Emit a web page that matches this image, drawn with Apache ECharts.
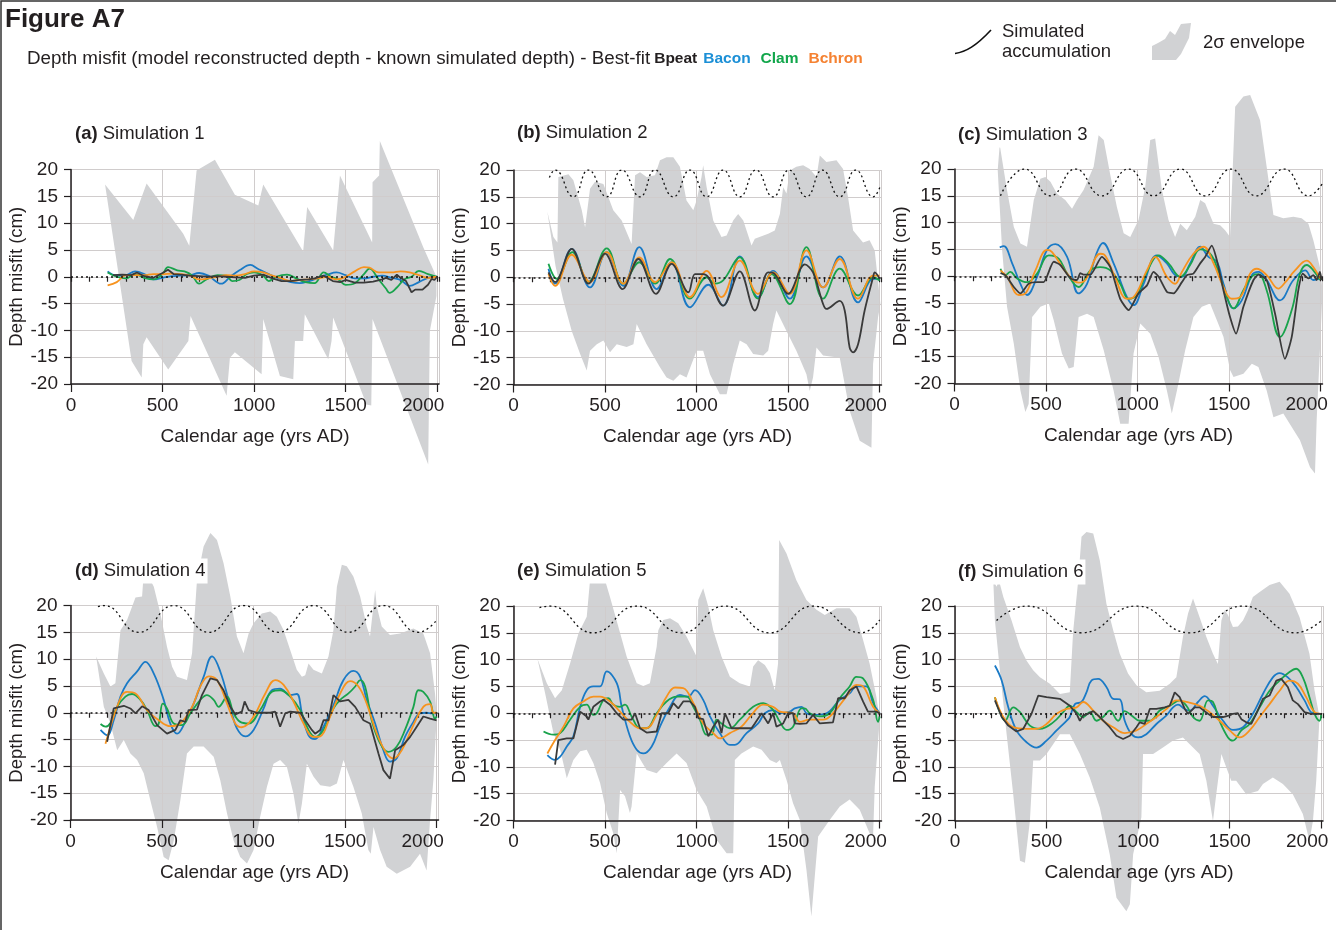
<!DOCTYPE html>
<html><head><meta charset="utf-8">
<script src="https://cdn.jsdelivr.net/npm/echarts/dist/echarts.min.js"></script>
<style>html,body{margin:0;padding:0;background:#fff}#chart{width:1336px;height:930px}</style>
</head><body><div id="chart"></div>
<script>
// ---------- DATA ----------
const X_TICKS_MAJOR = [0, 500, 1000, 1500, 2000];
const Y_TICKS = [-20, -15, -10, -5, 0, 5, 10, 15, 20];

// Panel (a) Simulation 1
const ENV_A_UP = [[186,17.2],[340,10.6],[413,17.4],[613,8.0],[646,5.8],[686,19.8],[786,21.8],[895,15.3],[1023,13.3],[1050,17.2],[1268,4.7],[1290,13.0],[1432,4.9],[1469,18.9],[1645,6.4],[1647,17.6],[1683,18.9],[1687,25.3],[1924,5.5],[1996,0]];
const ENV_A_LO = [[186,17.2],[331,-15.7],[386,-18.8],[395,-12.6],[413,-11.3],[531,-17.3],[641,-12.0],[653,-7.3],[850,-22.2],[868,-15.1],[895,-14.1],[1041,-18.2],[1050,-7.9],[1141,-18.5],[1214,-19.1],[1223,-12],[1268,-12],[1277,-7],[1405,-15.4],[1423,-12],[1432,-7.6],[1614,-23.8],[1640,-24],[1647,-7.9],[1951,-35],[1960,-10.1],[1996,-3.6]];
const BACON_A = [[200,1],[250,0.2],[300,0.3],[350,1.0],[400,0.5],[450,-0.5],[500,-0.2],[550,0.1],[600,0.2],[650,0.3],[700,0.7],[750,0.2],[820,-1.3],[870,0],[920,1.2],[980,2.2],[1020,1.5],[1080,0.5],[1150,-0.5],[1200,-1],[1250,-1.2],[1300,-0.8],[1350,-0.2],[1400,0.4],[1450,0.8],[1500,0.3],[1550,-0.3],[1600,-0.3],[1650,0],[1700,0.2],[1750,-0.2],[1800,-0.6],[1850,-1.7],[1900,-1],[1950,-0.2],[2000,0]];
const CLAM_A = [[200,0.8],[250,0],[300,-0.3],[350,0.5],[400,-0.2],[450,-0.5],[500,0.5],[530,1.8],[580,1.2],[620,1],[660,0.3],[700,-1.3],[740,-0.5],[800,0.3],[850,0.2],[880,-0.8],[920,-0.6],[960,0.5],[1000,0.8],[1050,0.2],[1080,-0.8],[1120,0],[1180,0.4],[1230,-0.3],[1280,-1],[1330,-1.2],[1380,0.8],[1420,0],[1460,-0.5],[1500,-1.5],[1550,-1.2],[1600,0.5],[1630,1.5],[1680,-0.5],[1720,-2.2],[1740,-3],[1780,-2],[1820,-0.5],[1860,0],[1900,1.1],[1950,0.5],[2000,0]];
const BCHRON_A = [[200,-1.6],[250,-1],[300,0.3],[350,0.3],[400,0.3],[450,0.5],[500,0.5],[550,0.6],[600,0.5],[650,0.2],[700,-0.5],[750,-0.3],[800,0],[850,0.3],[900,0.2],[950,0.5],[1000,1],[1050,0.8],[1100,0.2],[1150,-0.3],[1200,-0.8],[1250,-0.6],[1300,-0.5],[1350,-0.3],[1400,0],[1450,-0.5],[1500,0],[1550,1.0],[1600,1.8],[1630,1.7],[1680,0.8],[1750,0.8],[1800,1],[1850,0.8],[1900,0.3],[1950,-0.2],[2000,0]];
const BPEAT_A = [[230,0.3],[280,0.4],[330,0.3],[360,0.8],[400,0.1],[450,-0.2],[500,0.7],[530,1.3],[560,0.5],[600,0.4],[650,0.2],[700,0.1],[750,0],[800,0.1],[850,0],[900,-0.1],[950,-0.2],[1000,0.2],[1050,0.4],[1100,-0.3],[1150,-0.8],[1200,-0.8],[1250,-0.6],[1300,-0.5],[1330,-0.3],[1380,0.2],[1430,-0.8],[1470,-1],[1500,-0.6],[1550,-1.1],[1600,-1.1],[1650,-0.9],[1700,-0.5],[1720,-0.2],[1750,-0.6],[1780,0.4],[1800,-0.2],[1830,-0.8],[1860,-2.9],[1880,-2.4],[1920,-2.4],[1950,-1.5],[1970,-0.4],[1985,-0.6],[2000,0]];

// Panel (b) Simulation 2
const ENV_B_UP = [[185,12.2],[218,7.5],[240,6.5],[245,18.7],[300,19.2],[327,18.1],[373,12.5],[391,9.3],[418,16.5],[445,17.8],[491,17.4],[545,12.5],[591,10.6],[645,6.2],[664,19.0],[691,19.6],[727,18.7],[773,19.0],[800,21.8],[836,22.4],[873,22.4],[909,20.6],[945,14.3],[982,12.5],[1000,14.3],[1027,18.7],[1036,20.9],[1055,16.8],[1091,10.6],[1136,7.5],[1164,7.8],[1200,10.6],[1227,11.8],[1255,10.6],[1300,5.9],[1318,7.2],[1391,8.1],[1427,8.7],[1455,11.8],[1473,16.8],[1491,15.6],[1509,19.9],[1545,20.6],[1582,20.9],[1618,20.2],[1655,18.7],[1673,22.7],[1709,21.5],[1764,21.8],[1800,20.2],[1827,15.0],[1855,8.7],[1909,6.5],[1945,6.9],[1973,5.0],[2004,-5]];
const ENV_B_LO = [[185,12.2],[230,2],[270,-4],[318,-10],[364,-14.3],[400,-17.4],[418,-13.7],[455,-12.5],[491,-11.8],[527,-14],[564,-12.5],[618,-13],[655,-12.5],[673,-8.7],[727,-12.5],[800,-16.8],[836,-18.7],[873,-19.3],[909,-18.1],[945,-18.7],[1000,-13.7],[1036,-13.7],[1073,-18.1],[1127,-21.8],[1164,-21.8],[1200,-16.2],[1236,-11.8],[1273,-12.5],[1309,-14.3],[1364,-14.6],[1391,-13.7],[1418,-8.7],[1436,-6.2],[1491,-10],[1545,-13.7],[1600,-18.1],[1618,-21.2],[1636,-18.7],[1655,-13.1],[1691,-14.6],[1782,-15],[1836,-24.9],[1891,-30.5],[1955,-31.8],[1964,-16.2],[1991,-7.5],[2004,-5]];
const BACON_B = [[191,1.6],[227,-1.2],[318,5.3],[418,-1.9],[509,4.7],[600,-1.6],[687,5.6],[782,-2.2],[864,2.8],[964,-5.6],[1064,-1.4],[1145,-5.3],[1236,3.9],[1336,-3.7],[1418,1.2],[1509,-4],[1600,3.9],[1691,-1.9],[1782,3.9],[1882,-4.7],[1964,-0.3],[2000,-0.3]];
const CLAM_B = [[191,2.5],[236,-0.3],[322,4.7],[409,-0.9],[509,5.4],[600,-1.2],[687,2.8],[773,-1.2],[855,3.4],[964,-4.0],[1055,0],[1100,-1.2],[1145,-0.6],[1236,3.7],[1336,-4],[1409,0.6],[1509,-5],[1600,5.6],[1691,-4],[1782,1.6],[1882,-3.4],[1964,0],[2000,-0.6]];
const BCHRON_B = [[191,0.6],[227,-1.6],[318,4.2],[418,-0.9],[509,4.7],[600,-1.2],[687,3.7],[773,-0.9],[864,2.8],[964,-3.7],[1055,1.2],[1136,-3.7],[1236,3.1],[1336,-3.1],[1418,0.9],[1509,-3.1],[1600,5],[1691,-1.9],[1782,3.4],[1882,-4],[1964,0.3],[2000,0.3]];
const BPEAT_B = [[191,0.9],[227,-0.9],[318,5.3],[409,-1.2],[500,4.4],[596,-2.2],[682,3.4],[778,-3.1],[864,2.5],[955,-2.8],[991,0.6],[1036,0.6],[1064,0],[1145,-5.3],[1236,1.1],[1318,-6.2],[1391,0.9],[1427,0.6],[1500,-3.1],[1591,2.4],[1636,0.9],[1691,-5],[1709,-5.9],[1782,-4.4],[1809,-6.2],[1836,-13.1],[1855,-14],[1882,-12.5],[1918,-6.2],[1964,0],[1973,0.9],[2000,-0.3]];
const ACCUM_B = [[196,18.6],[227,20],[327,15],[409,20],[509,15],[591,20],[691,15],[773,20],[873,15],[964,20],[1055,15],[1145,20],[1236,15],[1324,20],[1418,15],[1505,20],[1600,15],[1687,20],[1782,15],[1869,20],[1964,15],[2005,17.2]];

// Panel (c) Simulation 3
const ENV_C_UP = [[236,19.8],[247,24.5],[287,16],[324,9.2],[360,6.1],[396,5.5],[433,14.2],[469,18.2],[496,18.5],[524,17.6],[560,15.4],[605,14.2],[642,12.6],[669,14.2],[705,16.1],[760,20.4],[787,26.3],[815,25.4],[851,18.9],[887,12.9],[924,8],[960,7.3],[1005,10.5],[1042,16.7],[1069,25.4],[1096,25.7],[1133,16.1],[1169,10.5],[1205,7.3],[1233,9.8],[1269,8.6],[1315,11.1],[1342,14.2],[1369,13.6],[1415,9.8],[1451,9.5],[1478,8.6],[1505,7.3],[1533,31.6],[1578,33.5],[1615,33.8],[1669,29.1],[1705,20.4],[1742,11.4],[1796,10.8],[1851,11.1],[1896,10.8],[1933,9.8],[1960,6.7],[1996,1.7],[2010,-2.5]];
const ENV_C_LO = [[236,19.8],[260,4.9],[287,-5.7],[324,-12.6],[360,-21.3],[387,-25.3],[405,-23.8],[424,-7.6],[469,-5.7],[515,-5.1],[542,-8.2],[587,-14.4],[624,-17.2],[651,-16.9],[678,-7.6],[724,-7],[760,-7.6],[815,-13.8],[869,-21.3],[905,-27.5],[951,-27.5],[978,-14.4],[1015,-8.8],[1069,-10.7],[1115,-15.1],[1160,-21.3],[1187,-25.6],[1215,-21.3],[1260,-13.8],[1305,-7.6],[1351,-5.7],[1396,-5.1],[1433,-8.2],[1469,-11.3],[1505,-17.5],[1524,-18.8],[1578,-18.2],[1624,-16.3],[1660,-16.9],[1705,-21.3],[1742,-26.3],[1796,-25.6],[1887,-30.6],[1942,-35.6],[1969,-36.8],[1978,-26.9],[1996,-13.8],[2010,-2.5]];
const BACON_C = [[247,5.4],[269,5.6],[315,2.4],[360,-1.4],[396,-3.5],[451,-0.1],[505,4.9],[551,6.0],[615,3.6],[678,-3.2],[724,-1.4],[775,4.2],[811,6.2],[869,2.4],[942,-3.9],[978,-5.4],[1033,-1.4],[1105,3.9],[1160,2.4],[1205,0.2],[1242,-0.1],[1287,2.4],[1342,5.5],[1387,3.6],[1433,2.7],[1469,-1.4],[1524,-6],[1569,-4.5],[1624,0.2],[1660,0.8],[1705,-0.7],[1778,-4.5],[1851,-0.7],[1915,1.1],[1960,-0.7],[1996,-0.4]];
const CLAM_C = [[251,1.4],[278,0.2],[305,0.8],[342,-0.4],[396,-1.1],[451,0.5],[515,3.9],[569,3.3],[615,0.5],[678,-2],[742,1.1],[796,1.7],[851,1.1],[905,-1.4],[951,-4.2],[996,-3.5],[1051,0.8],[1115,3.9],[1169,2.4],[1233,-0.1],[1287,2.1],[1342,5],[1396,4.2],[1433,1.7],[1487,-3.9],[1524,-6],[1578,-2.6],[1633,0.2],[1660,0.4],[1705,-2.6],[1778,-11.3],[1842,-6.3],[1887,0.5],[1924,2.1],[1960,1.1],[1996,-0.7]];
const BCHRON_C = [[251,1.1],[287,-0.1],[351,-3.5],[387,-3.2],[442,1.1],[505,4.9],[533,4.5],[615,0.5],[678,-1.2],[715,-0.7],[796,4.2],[815,4.1],[869,0.5],[942,-4.2],[978,-3.9],[1051,1.1],[1096,3.6],[1160,-0.1],[1205,-1.4],[1242,0.8],[1305,4.2],[1360,5.5],[1415,2.4],[1469,-2],[1515,-4.2],[1560,-3.9],[1615,0.5],[1651,1.4],[1705,0.2],[1769,-2.3],[1805,-1.2],[1860,1.1],[1924,2.9],[1960,1.7],[1996,-0.4]];
const BPEAT_C = [[251,0.6],[278,0.2],[324,-2],[360,-3.2],[405,-1.4],[451,-1.1],[487,-1.1],[542,2.7],[578,2.1],[633,-0.4],[669,-0.7],[687,0.6],[705,0.3],[742,0.3],[805,3.6],[851,1.7],[905,-4.2],[951,-6.3],[1005,-3.2],[1051,-1.7],[1087,0.8],[1115,-0.1],[1160,-2.9],[1196,-3.2],[1242,-1.1],[1269,0.2],[1305,0.5],[1342,2.4],[1369,3.6],[1405,5.7],[1433,3],[1469,-2.6],[1505,-7.6],[1538,-10.7],[1578,-5.7],[1633,-0.7],[1660,0.3],[1705,-0.7],[1751,-7],[1805,-15.4],[1842,-11.3],[1878,-2.6],[1902,0.5],[1933,-0.4],[1960,0.2],[1978,-0.7],[1996,0.8],[2005,-0.7]];
const ACCUM_C = [[251,15],[382,20],[524,15],[660,20],[805,15],[951,20],[1087,15],[1233,20],[1369,15],[1509,20],[1647,15],[1800,20],[1933,15],[2008,17.2]];

// Panel (d) Simulation 4
const ENV_D_UP = [[140,10.5],[182,7.3],[218,4.9],[245,5.5],[273,15.4],[309,17.3],[355,21.5],[391,21.7],[400,26],[427,25.4],[455,23.5],[491,18.5],[527,12.3],[555,8.6],[582,6.7],[636,6.1],[664,11.1],[691,24.8],[727,31],[764,33.5],[800,32.2],[836,27.9],[873,21.7],[909,14.2],[945,11.1],[973,14.8],[1000,16.7],[1045,18.5],[1091,18.9],[1127,17.9],[1164,15.4],[1200,11.7],[1236,8],[1264,6.7],[1282,7],[1300,9.2],[1327,8],[1373,7.3],[1409,10.5],[1436,15.4],[1455,23.5],[1482,27.6],[1509,27.3],[1545,25.4],[1582,21.7],[1618,16.1],[1636,14.2],[1664,22.9],[1673,19.8],[1700,16.1],[1745,14.5],[1800,14.8],[1873,15.7],[1927,14.8],[1964,11.1],[1991,3.6],[2000,-0.7]];
const ENV_D_LO = [[140,10.5],[182,1.1],[218,-2],[255,-7],[291,-5.1],[327,-7.6],[364,-8.8],[400,-11.3],[436,-16.3],[473,-21.3],[509,-26.9],[536,-27.5],[564,-23.8],[600,-16.3],[636,-7.6],[673,-6.3],[727,-6.3],[782,-8.2],[818,-12.6],[855,-18.8],[891,-23.8],[927,-26.9],[964,-28.1],[1000,-25.6],[1036,-19.4],[1073,-13.8],[1109,-9.5],[1145,-8.8],[1182,-10.1],[1218,-15.1],[1245,-20.7],[1264,-16.9],[1291,-9.5],[1327,-11.9],[1364,-13.5],[1418,-13.8],[1455,-13.2],[1491,-8.8],[1545,-13.8],[1591,-18.8],[1627,-25.6],[1640,-26.3],[1655,-21.3],[1691,-25.6],[1727,-28.7],[1782,-30],[1855,-28.7],[1909,-26.3],[1945,-29.4],[1964,-20],[1982,-12.6],[2000,-0.7]];
const BACON_D = [[164,-3.2],[200,-4.2],[236,-1.4],[273,3],[309,5.5],[364,7.7],[409,9.5],[455,7.3],[509,2.4],[545,-2],[582,-3.9],[627,-1.7],[673,1.7],[727,6.7],[773,10.5],[818,7.7],[873,1.1],[909,-2.9],[955,-4.4],[1000,-3.2],[1055,0.8],[1100,4.2],[1145,4.5],[1200,3.3],[1236,3.5],[1264,-0.1],[1300,-4.2],[1336,-4.9],[1373,-3.2],[1436,1.4],[1491,6.1],[1545,7.8],[1582,6.7],[1618,2.4],[1664,-2],[1709,-7],[1745,-9.1],[1782,-8.5],[1827,-4.5],[1873,-1.7],[1909,-0.1],[1945,0],[1973,-0.1],[2000,-0.1]];
const CLAM_D = [[164,-2.1],[191,-2.6],[218,-1.9],[255,1.1],[300,3],[336,3.5],[382,2.4],[418,0.5],[464,-2.5],[482,-2],[504,1.7],[527,0.8],[564,-2],[609,-2.3],[655,-0.1],[709,2.4],[745,3.3],[782,2.4],[809,1.1],[855,3],[891,-0.1],[927,-1.7],[973,-2],[1036,0.5],[1100,3.9],[1145,4.2],[1200,3],[1255,0.5],[1300,-3.2],[1336,-4.5],[1382,-3.2],[1436,0.8],[1473,2.4],[1518,3.6],[1555,4.9],[1582,6.1],[1609,4.9],[1645,-1.4],[1691,-5.7],[1736,-7.3],[1782,-6.3],[1827,-3.2],[1873,1.1],[1900,4.2],[1927,3.9],[1964,2.1],[1991,-1.1],[2000,-0.7]];
const BCHRON_D = [[191,-5.8],[236,-0.7],[282,3.3],[309,3.9],[355,3.6],[418,0.5],[482,-1.4],[545,-2.5],[600,-2],[664,1.1],[709,4.9],[755,6.8],[800,6.1],[855,1.7],[900,-2],[936,-2.7],[1000,-0.7],[1064,3.6],[1118,6.1],[1164,5.2],[1218,2.1],[1273,-2],[1327,-4.5],[1364,-4.4],[1418,-0.7],[1473,3.6],[1527,5.9],[1573,4.9],[1618,1.7],[1673,-3.9],[1727,-7.6],[1764,-8.5],[1809,-7],[1873,-2.3],[1927,1.1],[1964,1.6],[1982,0],[2000,0]];
const BPEAT_D = [[200,-5.4],[236,0.8],[291,1.3],[327,0.8],[355,-0.1],[391,1.2],[427,0.5],[473,-2.3],[527,-3.9],[573,-3.2],[600,-1.4],[627,-1.7],[645,0.5],[691,0.6],[718,3.3],[764,6.4],[800,6.1],[836,4.2],[873,1.1],[900,-0.3],[936,0.2],[951,2.1],[973,0.5],[1018,0],[1091,0],[1118,0.2],[1145,-2.6],[1173,-0.1],[1200,0.2],[1255,0],[1282,-1.4],[1318,-3.2],[1336,-3.9],[1364,-3.2],[1382,-1.4],[1409,-1.4],[1436,3.3],[1473,2.1],[1518,2.4],[1555,1.1],[1600,-1.4],[1636,-2],[1682,-7.6],[1709,-10.7],[1745,-12.3],[1773,-7],[1818,-6],[1855,-4.5],[1891,-2.6],[1927,-0.7],[1964,-1.1],[2000,-1.4]];
const ACCUM_D = [[150,19.8],[182,20],[373,15],[564,20],[755,15],[945,20],[1136,15],[1327,20],[1518,15],[1709,20],[1900,15],[2005,17.5]];

// Panel (e) Simulation 5
const ENV_E_UP = [[131,10.1],[182,5.6],[227,2.8],[264,4.3],[309,9.3],[355,14.9],[400,18],[418,24.8],[500,24.8],[527,21.7],[573,16.1],[618,10.6],[673,5.6],[709,5.1],[745,5.6],[782,12.4],[791,15.5],[818,17.4],[855,17.7],[900,16.8],[945,14.3],[973,12.4],[1000,10.6],[1009,21.1],[1036,23.3],[1064,19.9],[1091,15.5],[1136,10.6],[1182,6.8],[1236,5.6],[1291,5],[1309,8.7],[1336,9.9],[1373,9],[1400,7.5],[1427,4.3],[1445,9.3],[1451,32.3],[1491,29.8],[1545,24.8],[1600,21.1],[1655,19.3],[1700,18.3],[1764,19.6],[1836,19.6],[1873,18],[1909,13.7],[1945,9.3],[1982,3.1],[2000,-1.2]];
const ENV_E_LO = [[131,10.1],[173,3.7],[218,-3.7],[255,-6.8],[291,-12.1],[327,-8.7],[364,-7.1],[400,-6.8],[436,-9.3],[473,-13],[509,-18.6],[545,-22.4],[564,-26.1],[582,-14.3],[609,-15.5],[636,-18.6],[645,-17.4],[673,-7.5],[727,-10.6],[782,-11.2],[836,-9.3],[891,-7.5],[945,-9.3],[1000,-14.3],[1055,-17.4],[1109,-23.6],[1164,-26.1],[1200,-26.1],[1209,-8.7],[1245,-7.5],[1309,-6.2],[1355,-6.8],[1400,-8.7],[1436,-9.3],[1455,-8.7],[1491,-12.4],[1527,-16.8],[1564,-19.9],[1600,-29.2],[1627,-37.9],[1664,-23],[1727,-19.9],[1782,-17.4],[1836,-16.1],[1891,-18],[1945,-22.4],[1964,-23],[1973,-13.7],[2000,-1.2]];
const BACON_E = [[185,-7.8],[227,-8.7],[255,-8.1],[291,-6.2],[327,-4.3],[364,1.2],[400,4.3],[436,5],[473,5],[509,7.8],[564,5.6],[591,1.2],[636,-4.3],[673,-6.8],[709,-7.5],[755,-6.2],[800,-2.5],[855,1.2],[909,3.4],[955,3.1],[991,4.3],[1036,2.5],[1073,-0.6],[1127,-3.7],[1182,-5.9],[1209,-5.9],[1273,-3.7],[1336,-1.9],[1373,0],[1418,0.6],[1455,0],[1509,0.3],[1536,0.9],[1573,1.2],[1600,0],[1636,-0.3],[1709,0],[1782,2.5],[1836,3.7],[1873,5],[1927,5],[1964,1.9],[2000,0]];
const CLAM_E = [[164,-3.4],[218,-4],[255,-3.7],[309,-1.2],[364,1.2],[400,1.6],[436,-0.3],[455,0],[491,2.5],[518,2.8],[545,1.6],[582,1.2],[609,1.6],[645,-0.6],[691,-2.8],[727,-2.8],[782,0],[836,2.2],[891,3.1],[945,3.1],[982,1.2],[1018,-1.2],[1055,-4],[1082,-4],[1109,-1.2],[1136,-1.9],[1182,-2.8],[1236,-1.2],[1309,1.2],[1364,1.9],[1418,0.6],[1455,-1.6],[1491,-3.1],[1527,-2.5],[1573,0.9],[1591,0.9],[1618,0],[1673,-0.6],[1727,0],[1782,2.8],[1836,5],[1873,6.8],[1909,6.5],[1964,2.5],[1991,-1.6],[2000,-0.6]];
const BCHRON_E = [[185,-7.5],[227,-5],[273,-2.5],[327,0.9],[382,2.2],[436,3.1],[473,3.1],[527,2.2],[582,0.3],[636,-1.6],[691,-2.8],[727,-2.8],[782,-0.3],[836,3.1],[882,4.8],[927,4.7],[982,1.9],[1036,-1.9],[1091,-3.7],[1127,-4.7],[1182,-3.7],[1245,-2.5],[1300,-0.3],[1364,1.6],[1418,1.2],[1455,0.3],[1527,0],[1564,-1.6],[1618,-1.2],[1691,-1.2],[1745,0],[1818,3.1],[1873,5.3],[1909,5],[1964,1.2],[2000,0]];
const BPEAT_E = [[227,-9.6],[245,-5],[291,-4.7],[327,-4.7],[364,0.3],[400,-0.6],[409,-1.2],[436,1.2],[473,2.2],[491,2.5],[527,1.6],[564,0],[600,-1.2],[645,-1.2],[664,0],[691,-2.8],[727,-3.6],[782,-3.4],[809,0],[845,0],[873,1.9],[900,0.9],[927,2.2],[964,2.2],[991,1.2],[1009,-0.9],[1036,-1.1],[1064,-4.3],[1091,-2.5],[1118,-1.2],[1136,-3.7],[1155,0],[1191,-2.8],[1236,-2.8],[1300,-2.8],[1318,-1.9],[1355,0],[1391,-1.9],[1418,0],[1436,-2.5],[1473,-1.9],[1500,0],[1527,0],[1536,-1.9],[1564,-2],[1600,-1.9],[1636,-0.3],[1673,-1.9],[1745,-1.7],[1773,2.8],[1809,2.8],[1836,4.3],[1873,5],[1909,2.2],[1936,0.3],[1982,0.3],[2000,0]];
const ACCUM_E = [[142,19.7],[200,20],[436,15],[673,20],[918,15],[1155,20],[1400,15],[1636,20],[1900,15],[2000,17.4]];

// Panel (f) Simulation 6
const ENV_F_UP = [[209,24.8],[227,23.6],[240,24.8],[264,21.7],[309,17.3],[355,12.3],[391,9.8],[427,8],[464,6.7],[518,5.5],[573,3.6],[627,3.9],[645,15.1],[673,24.8],[691,32.9],[718,33.8],[755,33.5],[791,28.5],[827,20.4],[864,15.5],[900,11.1],[945,7.4],[991,5.2],[1045,3.9],[1118,4.2],[1173,5.5],[1209,6.7],[1245,14.2],[1273,18.6],[1300,21.4],[1336,17.9],[1373,14.2],[1409,11.1],[1436,9.2],[1455,17.3],[1473,19.2],[1491,18.3],[1518,16.1],[1545,16.2],[1573,17.3],[1600,19.2],[1627,21.7],[1664,22.6],[1718,23.9],[1773,24.5],[1827,22.3],[1882,17.9],[1936,11.1],[1964,4.2],[1991,-0.7]];
const ENV_F_LO = [[209,24.8],[218,17.3],[245,8],[282,-3.9],[318,-15.1],[355,-27.5],[382,-27.9],[409,-20.1],[427,-8.8],[464,-8.8],[500,-7.6],[573,-3.9],[627,-3.9],[682,-7.6],[736,-12],[791,-17.6],[845,-26.3],[882,-34.4],[936,-36.9],[955,-35.6],[973,-26.3],[1018,-19.4],[1027,-7.6],[1082,-7.6],[1136,-6.4],[1191,-5.1],[1245,-4.5],[1300,-6.4],[1336,-7.6],[1373,-12.6],[1409,-20.1],[1427,-15.1],[1455,-7.6],[1482,-10.1],[1509,-12.6],[1536,-12.6],[1591,-15.1],[1655,-14.5],[1682,-13.2],[1736,-12],[1791,-13.2],[1845,-15.1],[1900,-18.8],[1936,-23.8],[1955,-20.1],[1973,-12.6],[1991,-0.7]];
const BACON_F = [[218,8.9],[255,6.1],[291,1.1],[336,-3.2],[391,-5.4],[445,-6.4],[500,-5.1],[555,-3.2],[609,-1.4],[627,-0.7],[655,1.7],[691,2.1],[718,3.9],[745,6.1],[782,6.4],[827,4.9],[864,2.7],[900,2.6],[927,-1.4],[964,-3.9],[1000,-4.5],[1045,-3.9],[1100,-2],[1155,-0.4],[1191,1.1],[1218,1.6],[1255,0.8],[1282,0.5],[1327,2.1],[1364,3.2],[1409,1.4],[1464,-1.4],[1518,-3.1],[1573,-2.6],[1627,-0.1],[1682,3.6],[1736,6.7],[1773,7.5],[1818,6.7],[1864,4.9],[1909,2.4],[1955,0],[2000,-0.1]];
const CLAM_F = [[218,3],[245,0.2],[273,-1.4],[318,1.1],[355,0.2],[409,-2.3],[464,-2.9],[536,-1.7],[591,0.2],[627,1.4],[664,0.2],[700,-0.7],[736,0.2],[773,-1.4],[809,-0.7],[845,0.5],[891,-1.4],[927,0.4],[964,-0.4],[1009,-1.4],[1064,-1.4],[1118,0.5],[1173,1.4],[1227,2.4],[1264,1.4],[1300,-0.7],[1336,-1.4],[1382,2.4],[1409,2.1],[1445,-1.4],[1491,-4.5],[1518,-5.1],[1564,-3.2],[1609,-2],[1664,1.1],[1718,4.2],[1773,6.1],[1827,7.7],[1864,8.3],[1900,6.7],[1936,3],[1964,-0.1],[1991,-1.4],[2000,-0.1]];
const BCHRON_F = [[218,3],[264,-0.7],[318,-2.6],[391,-2.9],[445,-2.9],[500,-2],[555,-0.1],[609,0.8],[664,1.1],[700,2.1],[755,0.5],[809,-1.4],[864,-2.6],[927,-3.7],[991,-3.2],[1045,-2],[1100,-0.7],[1155,0.8],[1209,2.4],[1264,2.1],[1336,1.4],[1391,0.2],[1445,-1.4],[1500,-3.2],[1555,-4.5],[1609,-3.2],[1664,-0.7],[1718,1.7],[1773,4.2],[1827,6.1],[1873,5.5],[1918,3],[1964,0.2],[2000,-0.1]];
const BPEAT_F = [[218,2.4],[255,-0.7],[291,-2.3],[336,-3.4],[373,-2.9],[418,-0.1],[455,3.3],[500,3],[573,2.7],[627,1.4],[664,-0.1],[682,-1.4],[700,-0.4],[727,-0.1],[755,0.4],[791,-0.7],[845,-2.6],[882,-4.2],[918,-4.8],[955,-4.2],[991,-2.6],[1009,-1.7],[1036,-2],[1064,0.8],[1100,0.8],[1145,1.1],[1173,1.4],[1200,3.9],[1227,3],[1255,0.8],[1273,-0.1],[1309,1.1],[1336,1.1],[1382,-0.1],[1409,-0.7],[1464,-0.7],[1500,-0.4],[1518,-0.1],[1545,0],[1564,-1.1],[1591,-1.7],[1618,-2],[1645,-0.1],[1682,2.7],[1718,3.3],[1755,6.1],[1782,6.4],[1818,4.9],[1845,2.4],[1873,1.7],[1909,0.2],[1945,-0.1],[2000,-0.1]];
const ACCUM_F = [[227,17.3],[391,20],[691,15],[991,20],[1282,15],[1573,20],[1860,15],[2005,17.4]];

// ---------- LAYOUT / STYLE ----------
const FONT = "'Liberation Sans', Arial, Helvetica, sans-serif";
const INK = '#231f20';
const C_BPEAT = '#3a3a3a', C_BACON = '#1a7ac6', C_CLAM = '#19a34c', C_BCHRON = '#f7931e';
const ENV_FILL = '#d1d2d4';
const GRIDLINE = '#d0cccc';
const FS = 19;

const PANELS = [
  {lab:'(a)', name:'Simulation 1', g:{left:71, top:169.5}, t:[73,134], up:ENV_A_UP, lo:ENV_A_LO, bacon:BACON_A, clam:CLAM_A, bchron:BCHRON_A, bpeat:BPEAT_A, acc:null, peatSmooth:false},
  {lab:'(b)', name:'Simulation 2', g:{left:513.5, top:170}, t:[515,133], up:ENV_B_UP, lo:ENV_B_LO, bacon:BACON_B, clam:CLAM_B, bchron:BCHRON_B, bpeat:BPEAT_B, acc:ACCUM_B, peatSmooth:0.35},
  {lab:'(c)', name:'Simulation 3', g:{left:954.5, top:169}, t:[956,135], up:ENV_C_UP, lo:ENV_C_LO, bacon:BACON_C, clam:CLAM_C, bchron:BCHRON_C, bpeat:BPEAT_C, acc:ACCUM_C, peatSmooth:0.2},
  {lab:'(d)', name:'Simulation 4', g:{left:70.5, top:605.5}, t:[73,571], up:ENV_D_UP, lo:ENV_D_LO, bacon:BACON_D, clam:CLAM_D, bchron:BCHRON_D, bpeat:BPEAT_D, acc:ACCUM_D, peatSmooth:false},
  {lab:'(e)', name:'Simulation 5', g:{left:513.5, top:606}, t:[515,571], up:ENV_E_UP, lo:ENV_E_LO, bacon:BACON_E, clam:CLAM_E, bchron:BCHRON_E, bpeat:BPEAT_E, acc:ACCUM_E, peatSmooth:false},
  {lab:'(f)', name:'Simulation 6', g:{left:955, top:606}, t:[956,572], up:ENV_F_UP, lo:ENV_F_LO, bacon:BACON_F, clam:CLAM_F, bchron:BCHRON_F, bpeat:BPEAT_F, acc:ACCUM_F, peatSmooth:false}
];
const GW = 368, GH = 214.5, XMAX = 2010;

const grids = [], xAxes = [], yAxes = [], series = [], graphics = [];
const txt = {fontFamily: FONT, color: INK};

PANELS.forEach((p, i) => {
  grids.push({left:p.g.left, top:p.g.top, width:GW, height:GH, containLabel:false, outerBoundsMode:'none'});
  xAxes.push({
    gridIndex:i, type:'value', min:0, max:XMAX, interval:500, position:'bottom', z:1,
    axisLine:{show:true, onZero:false, lineStyle:{color:INK, width:1.5}},
    axisTick:{show:true, length:8, lineStyle:{color:INK, width:1.2}},
    axisLabel:{margin:12, fontSize:FS, ...txt, showMaxLabel:false,
      formatter: v => (v === X_TICKS_MAJOR[4] ? '{r|' + v + '}' : (X_TICKS_MAJOR.indexOf(v) >= 0 ? String(v) : '')),
      rich:{r:{padding:[0,28,0,0], fontSize:FS, ...txt}}},
    splitLine:{show:true, lineStyle:{color:GRIDLINE, width:1}},
    name:'Calendar age (yrs AD)', nameLocation:'middle', nameGap:43,
    nameTextStyle:{fontSize:FS, ...txt}
  });
  yAxes.push({
    gridIndex:i, type:'value', min:Y_TICKS[0], max:Y_TICKS[Y_TICKS.length-1], interval:5, z:1,
    axisLine:{show:true, onZero:false, lineStyle:{color:INK, width:1.5}},
    axisTick:{show:true, length:7, lineStyle:{color:INK, width:1.2}},
    axisLabel:{margin:13, fontSize:FS, ...txt},
    splitLine:{show:true, lineStyle:{color:GRIDLINE, width:1}},
    name:'Depth misfit (cm)', nameLocation:'middle', nameGap:44, nameRotate:90,
    nameTextStyle:{fontSize:18.5, ...txt}
  });
});
// secondary tick-only x axes (100-yr ticks)
PANELS.forEach((p, i) => {
  xAxes.push({
    gridIndex:i, type:'value', min:0, max:XMAX, interval:100, position:'bottom', z:1,
    axisLine:{show:false}, axisLabel:{show:false}, splitLine:{show:false},
    axisTick:{show:true, length:5, lineStyle:{color:INK, width:1.2}}
  });
});

function envRenderer(up, lo) {
  return function (params, api) {
    if (params.dataIndex !== 0) return null;
    const pts = up.map(d => api.coord(d)).concat(lo.slice().reverse().map(d => api.coord(d)));
    return {type:'polygon', shape:{points:pts}, style:{fill:ENV_FILL, stroke:null}};
  };
}

PANELS.forEach((p, i) => {
  series.push({type:'custom', xAxisIndex:i, yAxisIndex:i, data:[[0,0]], renderItem:envRenderer(p.up, p.lo), z:0, clip:false, silent:true});
  if (p.acc) {
    series.push({type:'line', xAxisIndex:i, yAxisIndex:i, data:p.acc, smooth:0.5, showSymbol:false, symbol:'none', z:3,
      lineStyle:{color:'#111', width:1.3, type:[2,3]}});
  }
  const mk = {silent:true, symbol:['none','none'], label:{show:false},
    lineStyle:{color:'#111', width:1.5, type:[2,3]}, data:[{yAxis:0}]};
  series.push({type:'line', xAxisIndex:i, yAxisIndex:i, data:p.bacon, smooth:0.4, showSymbol:false, symbol:'none', z:4, lineStyle:{color:C_BACON, width:1.8}, markLine:mk});
  series.push({type:'line', xAxisIndex:i, yAxisIndex:i, data:p.clam, smooth:0.4, showSymbol:false, symbol:'none', z:4, lineStyle:{color:C_CLAM, width:1.8}});
  series.push({type:'line', xAxisIndex:i, yAxisIndex:i, data:p.bchron, smooth:0.4, showSymbol:false, symbol:'none', z:4, lineStyle:{color:C_BCHRON, width:1.8}});
  series.push({type:'line', xAxisIndex:i, yAxisIndex:i, data:p.bpeat, smooth:p.peatSmooth, showSymbol:false, symbol:'none', z:5, lineStyle:{color:C_BPEAT, width:1.8}});

  graphics.push({type:'text', z:50, x:p.t[0], y:p.t[1], style:{
    text:'{b|' + p.lab + '}{n| ' + p.name + '}', textVerticalAlign:'middle',
    backgroundColor:'#fff', padding:[3,2,3,2],
    rich:{b:{fontWeight:'bold', fontSize:18.5, fontFamily:FONT, fill:INK}, n:{fontSize:18.5, fontFamily:FONT, fill:INK}}
  }});
});

// header, legend, frame
graphics.push(
  {type:'polyline', z:60, shape:{points:[[1,930],[1,1],[1336,1]]}, style:{stroke:'#333', lineWidth:1.5, fill:null}},
  {type:'text', z:60, x:5, y:20, style:{text:'Figure A7', font:'bold 26px ' + FONT, fill:INK, textVerticalAlign:'middle'}},
  {type:'text', z:60, x:27, y:59, style:{
    text:'{n|Depth misfit (model reconstructed depth - known simulated depth) - Best-fit}{k|Bpeat}{u|Bacon}{g|Clam}{o|Bchron}',
    textVerticalAlign:'middle',
    rich:{
      n:{fontSize:18.8, fontFamily:FONT, fill:INK},
      k:{fontSize:15.5, fontWeight:'bold', fontFamily:FONT, fill:INK, padding:[0,0,0,4]},
      u:{fontSize:15.5, fontWeight:'bold', fontFamily:FONT, fill:'#1b8fd6', padding:[0,0,0,6]},
      g:{fontSize:15.5, fontWeight:'bold', fontFamily:FONT, fill:'#11a64b', padding:[0,0,0,10]},
      o:{fontSize:15.5, fontWeight:'bold', fontFamily:FONT, fill:'#f58232', padding:[0,0,0,10]}
    }}},
  {type:'bezierCurve', z:60, shape:{x1:955, y1:53.5, cpx1:966, cpy1:52, cpx2:976, cpy2:46, x2:991, y2:30},
    style:{stroke:'#111', lineWidth:1.6, fill:null}},
  {type:'text', z:60, x:1002, y:32, style:{text:'Simulated', fontSize:18.5, fontFamily:FONT, fill:INK, textVerticalAlign:'middle'}},
  {type:'text', z:60, x:1002, y:52, style:{text:'accumulation', fontSize:18.5, fontFamily:FONT, fill:INK, textVerticalAlign:'middle'}},
  {type:'polygon', z:60, shape:{points:[[1152,46],[1158,43],[1165,39],[1170,31],[1175,35],[1181,24],[1191,23],[1189,38],[1181,54],[1176,60],[1152,60]]},
    style:{fill:ENV_FILL}},
  {type:'text', z:60, x:1203, y:43, style:{text:'2σ envelope', fontSize:18.5, fontFamily:FONT, fill:INK, textVerticalAlign:'middle'}}
);

const chart = echarts.init(document.getElementById('chart'), null, {renderer:'canvas'});
chart.setOption({
  animation:false,
  backgroundColor:'#fff',
  grid:grids, xAxis:xAxes, yAxis:yAxes, series:series, graphic:graphics
});
</script>
</body></html>
